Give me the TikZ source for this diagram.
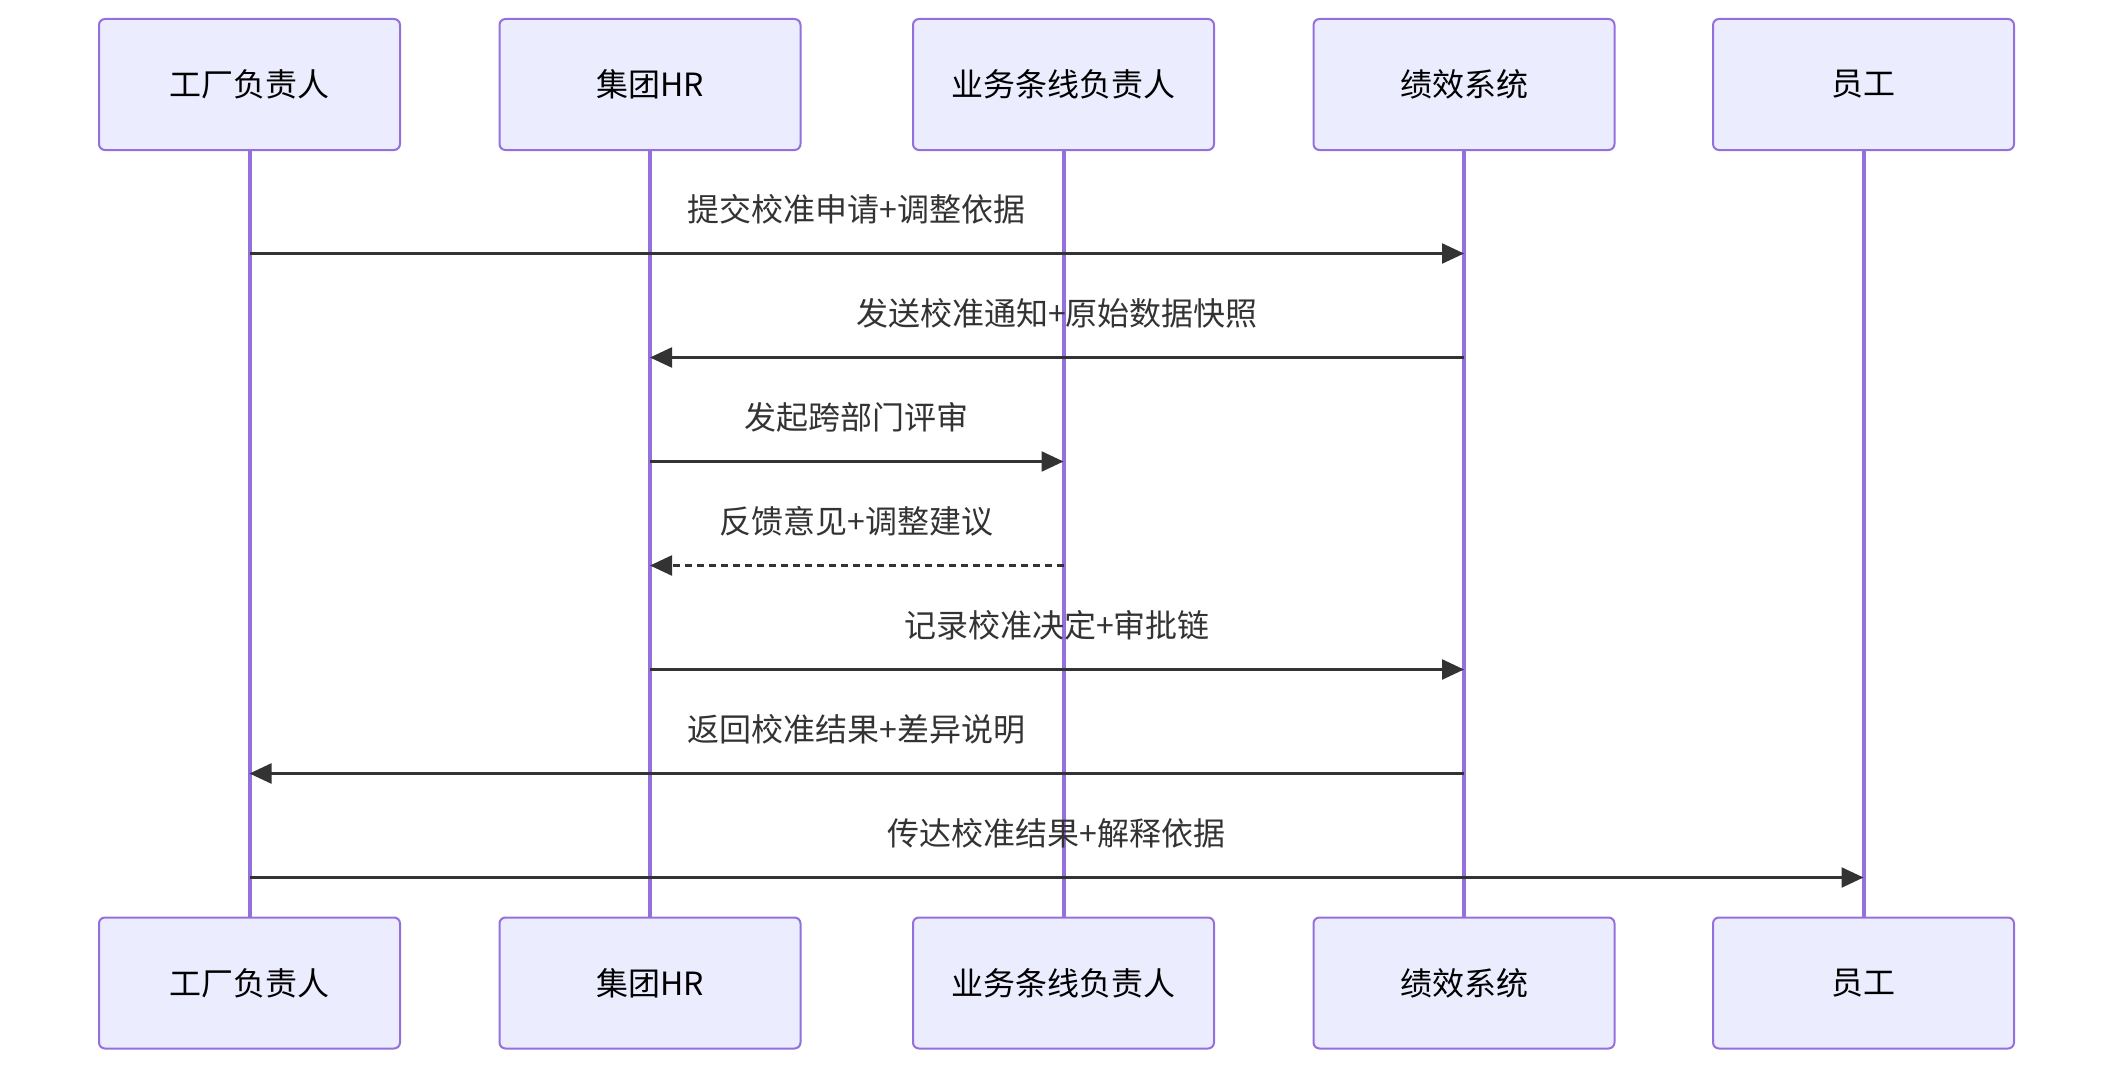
\documentclass[tikz,border=0pt]{standalone}
\usepackage{fontspec}
\newfontfamily\cjk{Noto Sans CJK SC}
\usepackage{xcolor}
\usepackage{tikz}
\usetikzlibrary{arrows.meta}

\definecolor{actorfill}{HTML}{ECECFF}
\definecolor{actorline}{HTML}{9370DB}
\definecolor{msgcol}{HTML}{333333}

\begin{document}
\begin{tikzpicture}[
  x=1pt, y=-1pt,
  every node/.style={font=\cjk\fontsize{32}{38}\selectfont},
  actor/.style={rounded corners=6pt, draw=actorline, line width=2pt, fill=actorfill,
                minimum width=301pt, minimum height=131pt, inner sep=0pt},
  life/.style={draw=actorline, line width=4pt},
  msg/.style={-{Triangle[length=22pt,width=20pt]}, line width=2.4pt, draw=msgcol},
  reply/.style={msg, dash pattern=on 7pt off 5pt},
  lbl/.style={text=msgcol, midway, yshift=44pt},
]
\useasboundingbox (0,0) rectangle (2114,1070);

% Top actors
\node[actor] (fac)  at (249.5,84.5)  {工厂负责人};
\node[actor] (hr)   at (650,84.5)    {集团HR};
\node[actor] (biz)  at (1063.5,84.5) {业务条线负责人};
\node[actor] (perf) at (1464,84.5)   {绩效系统};
\node[actor] (emp)  at (1863.5,84.5) {员工};

% Bottom actors
\node[actor] (facb)  at (249.5,983)  {工厂负责人};
\node[actor] (hrb)   at (650,983)    {集团HR};
\node[actor] (bizb)  at (1063.5,983) {业务条线负责人};
\node[actor] (perfb) at (1464,983)   {绩效系统};
\node[actor] (empb)  at (1863.5,983) {员工};

% Lifelines
\draw[life] (fac.south)  -- (facb.north);
\draw[life] (hr.south)   -- (hrb.north);
\draw[life] (biz.south)  -- (bizb.north);
\draw[life] (perf.south) -- (perfb.north);
\draw[life] (emp.south)  -- (empb.north);

% Messages
\draw[msg] (fac |- 0,253.5) -- (perf |- 0,253.5)
  node[lbl] (m1) {提交校准申请+调整依据};
\draw[msg] (perf |- 0,357.5) -- (hr |- 0,357.5)
  node[lbl] (m2) {发送校准通知+原始数据快照};
\draw[msg] (hr |- 0,461.5) -- (biz |- 0,461.5)
  node[lbl] (m3) {发起跨部门评审};
\draw[reply] (biz |- 0,565.5) -- (hr |- 0,565.5)
  node[lbl] (m4) {反馈意见+调整建议};
\draw[msg] (hr |- 0,669.5) -- (perf |- 0,669.5)
  node[lbl] (m5) {记录校准决定+审批链};
\draw[msg] (perf |- 0,773.5) -- (fac |- 0,773.5)
  node[lbl] (m6) {返回校准结果+差异说明};
\draw[msg] (fac |- 0,877.5) -- (emp |- 0,877.5)
  node[lbl] (m7) {传达校准结果+解释依据};

\end{tikzpicture}
\end{document}
